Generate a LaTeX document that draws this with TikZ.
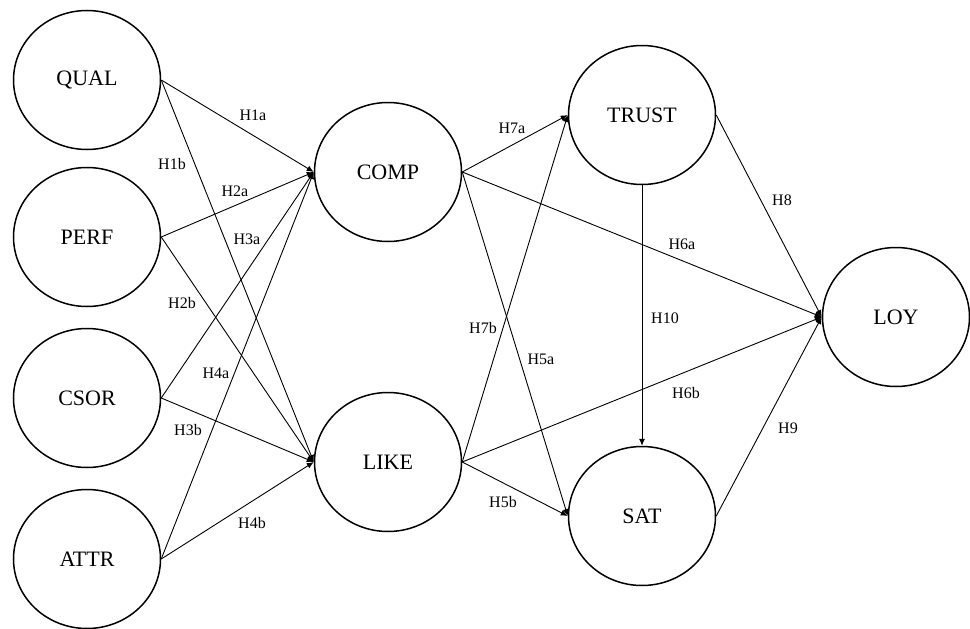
\documentclass[tikz,border=0pt]{standalone}
\usepackage{fontspec}
\setmainfont{Liberation Serif}
\usetikzlibrary{shapes.geometric,arrows.meta}
\begin{document}
\begin{tikzpicture}[x=1pt,y=-1pt,
  construct/.style={draw, ellipse, line width=1.5pt, minimum width=147pt, minimum height=139pt, inner sep=0pt, font=\fontsize{22}{24}\selectfont},
  path/.style={draw, line width=0.9pt, -{Latex[length=7pt,width=6pt]}},
  hyp/.style={font=\fontsize{16}{18}\selectfont, inner sep=1pt}]
\useasboundingbox (0,0) rectangle (970,629);
\node[construct] (QUAL) at (87,80) {QUAL};
\node[construct] (PERF) at (87,237) {PERF};
\node[construct] (CSOR) at (87,398) {CSOR};
\node[construct] (ATTR) at (87,559) {ATTR};
\node[construct] (COMP) at (388,172) {COMP};
\node[construct] (LIKE) at (388,462) {LIKE};
\node[construct] (TRUST) at (642,115) {TRUST};
\node[construct] (SAT) at (642,516) {SAT};
\node[construct] (LOY) at (896,317) {LOY};

\draw[path] (QUAL.east) -- (COMP.west);
\draw[path] (QUAL.east) -- (LIKE.west);
\draw[path] (PERF.east) -- (COMP.west);
\draw[path] (PERF.east) -- (LIKE.west);
\draw[path] (CSOR.east) -- (COMP.west);
\draw[path] (CSOR.east) -- (LIKE.west);
\draw[path] (ATTR.east) -- (COMP.west);
\draw[path] (ATTR.east) -- (LIKE.west);
\draw[path] (COMP.east) -- (TRUST.west);
\draw[path] (COMP.east) -- (SAT.west);
\draw[path] (COMP.east) -- (LOY.west);
\draw[path] (LIKE.east) -- (TRUST.west);
\draw[path] (LIKE.east) -- (SAT.west);
\draw[path] (LIKE.east) -- (LOY.west);
\draw[path] (TRUST.east) -- (LOY.west);
\draw[path] (SAT.east) -- (LOY.west);
\draw[path] (TRUST.south) -- (SAT.north);

\node[hyp] (h1a) at (253,115) {H1a};
\node[hyp] (h1b) at (172,164) {H1b};
\node[hyp] (h2a) at (235,191) {H2a};
\node[hyp] (h3a) at (247,239) {H3a};
\node[hyp] (h2b) at (182,303) {H2b};
\node[hyp] (h4a) at (216,373) {H4a};
\node[hyp] (h3b) at (188,430) {H3b};
\node[hyp] (h4b) at (252,523) {H4b};
\node[hyp] (h7a) at (512,128) {H7a};
\node[hyp] (h7b) at (483,328) {H7b};
\node[hyp] (h5a) at (541,359) {H5a};
\node[hyp] (h5b) at (503,502) {H5b};
\node[hyp] (h8) at (782,200) {H8};
\node[hyp] (h6a) at (682,244) {H6a};
\node[hyp] (h10) at (665,318) {H10};
\node[hyp] (h6b) at (686,393) {H6b};
\node[hyp] (h9) at (788,428) {H9};
\end{tikzpicture}
\end{document}
